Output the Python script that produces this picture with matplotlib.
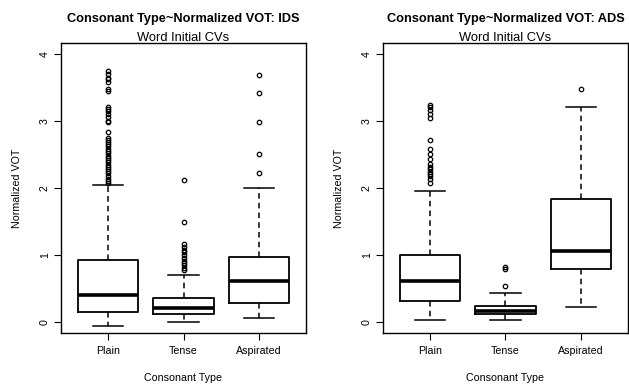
import matplotlib
matplotlib.use('Agg')
import matplotlib.pyplot as plt

plt.rcParams['font.family'] = ['Liberation Sans', 'DejaVu Sans']
plt.rcParams['lines.scale_dashes'] = False

# Datos (VOT normalizado)
tipos = ['Plain', 'Tense', 'Aspirated']

# Habla dirigida a infantes (IDS)
ids_whislo = [-0.06, 0.01, 0.06]
ids_q1 = [0.15, 0.13, 0.28]
ids_med = [0.40, 0.21, 0.62]
ids_q3 = [0.93, 0.36, 0.97]
ids_whishi = [2.05, 0.70, 2.00]
ids_fliers_plain = [2.08, 2.11, 2.14, 2.18, 2.22, 2.25, 2.29, 2.31, 2.35, 2.38,
                    2.42, 2.45, 2.48, 2.52, 2.55, 2.58, 2.62, 2.65, 2.68, 2.72,
                    2.75, 2.83, 2.98, 3.00, 3.06, 3.10, 3.14, 3.18, 3.20, 3.45,
                    3.47, 3.58, 3.62, 3.64, 3.70, 3.74]
ids_fliers_tense = [0.78, 0.81, 0.85, 0.88, 0.92, 0.96, 1.00, 1.04, 1.08, 1.12,
                    1.16, 1.50, 2.12]
ids_fliers_asp = [2.22, 2.50, 2.98, 3.41, 3.68]

# Habla dirigida a adultos (ADS)
ads_whislo = [0.03, 0.03, 0.22]
ads_q1 = [0.31, 0.12, 0.79]
ads_med = [0.61, 0.17, 1.06]
ads_q3 = [1.00, 0.24, 1.83]
ads_whishi = [1.96, 0.43, 3.20]
ads_fliers_plain = [2.08, 2.13, 2.18, 2.21, 2.24, 2.28, 2.31, 2.36, 2.43, 2.50,
                    2.58, 2.71, 3.05, 3.10, 3.16, 3.20, 3.24]
ads_fliers_tense = [0.54, 0.79, 0.82]
ads_fliers_asp = [3.47]


def armar_stats(whislo, q1, med, q3, whishi, fliers):
    '''
        Construye la lista de diccionarios que necesita Axes.bxp
    '''
    stats = []
    for i in range(len(tipos)):
        stats.append({'label': tipos[i], 'whislo': whislo[i], 'q1': q1[i],
                      'med': med[i], 'q3': q3[i], 'whishi': whishi[i],
                      'fliers': fliers[i]})
    return stats


def dibujar_panel(ax, stats, titulo):
    '''
        Dibuja un boxplot con el estilo de R
    '''
    ax.bxp(stats, positions=[1, 2, 3], widths=0.8,
           boxprops=dict(color='black', linewidth=1.3),
           medianprops=dict(color='black', linewidth=2.6, solid_capstyle='butt'),
           whiskerprops=dict(color='black', linewidth=1.1, linestyle=(0, (4, 3))),
           capprops=dict(color='black', linewidth=1.1),
           capwidths=0.4,
           flierprops=dict(marker='o', markersize=3.2, markerfacecolor='none',
                           markeredgecolor='black', markeredgewidth=0.9))
    ax.set_xlim(0.38, 3.62)
    ax.set_ylim(-0.16, 4.16)
    ax.set_yticks([0, 1, 2, 3, 4])
    ax.set_yticklabels(['0', '1', '2', '3', '4'], rotation=90, va='center')
    ax.tick_params(axis='both', direction='out', length=5, width=0.8,
                   labelsize=7.7)
    ax.tick_params(axis='x', pad=4)
    ax.tick_params(axis='y', pad=3)
    for lado in ax.spines.values():
        lado.set_linewidth(1.0)
    ax.set_xlabel('Consonant Type', fontsize=7.7, va='center')
    ax.xaxis.set_label_coords(0.5, -0.155)
    ax.set_ylabel('Normalized VOT', fontsize=7.7, va='center')
    ax.yaxis.set_label_coords(-0.18, 0.5)
    centro = ax.get_position().x0 + ax.get_position().width / 2
    fig.text(centro, 1 - 19 / 385, titulo, ha='center', va='center',
             fontsize=9.2, fontweight='bold')
    fig.text(centro, 1 - 38 / 385, 'Word Initial CVs', ha='center',
             va='center', fontsize=9.3)


fig = plt.figure(figsize=(6.29, 3.85), dpi=100)
ax1 = fig.add_axes([61 / 629, 52 / 385, 245 / 629, 290 / 385])
ax2 = fig.add_axes([383 / 629, 52 / 385, 245 / 629, 290 / 385])

dibujar_panel(ax1, armar_stats(ids_whislo, ids_q1, ids_med, ids_q3, ids_whishi,
                               [ids_fliers_plain, ids_fliers_tense,
                                ids_fliers_asp]),
              'Consonant Type~Normalized VOT: IDS')
dibujar_panel(ax2, armar_stats(ads_whislo, ads_q1, ads_med, ads_q3, ads_whishi,
                               [ads_fliers_plain, ads_fliers_tense,
                                ads_fliers_asp]),
              'Consonant Type~Normalized VOT: ADS')

fig.savefig('out.png', dpi=100)
